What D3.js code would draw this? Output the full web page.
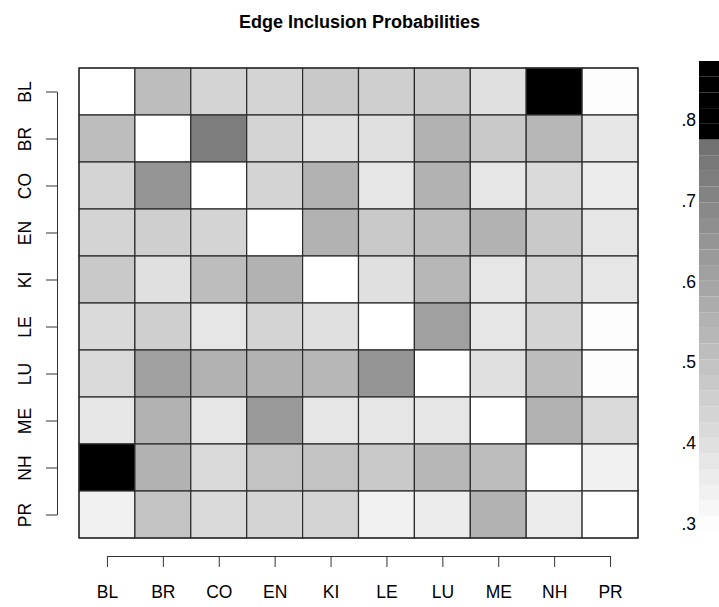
<!DOCTYPE html>
<html>
<head>
<meta charset="utf-8">
<script src="https://cdn.jsdelivr.net/npm/d3@7/dist/d3.min.js"></script>
<style>
  html, body { margin: 0; padding: 0; background: #fff; overflow: hidden; }
  svg { display: block; font-family: "Liberation Sans", Arial, Helvetica, sans-serif; }
</style>
</head>
<body>
<svg id="chart" width="719" height="607"></svg>
<script>
// ---- data ----
const title = "Edge Inclusion Probabilities";
const nodes = ["BL", "BR", "CO", "EN", "KI", "LE", "LU", "ME", "NH", "PR"];
// rows (top to bottom) = nodes, columns (left to right) = nodes; null on diagonal
const rowBL = [null, 0.518, 0.441, 0.441, 0.467, 0.454, 0.477, 0.404, 0.873, 0.303];
const rowBR = [0.504, null, 0.722, 0.430, 0.400, 0.397, 0.551, 0.477, 0.524, 0.387];
const rowCO = [0.434, 0.655, null, 0.427, 0.548, 0.380, 0.548, 0.387, 0.420, 0.354];
const rowEN = [0.444, 0.454, 0.430, null, 0.561, 0.474, 0.514, 0.561, 0.471, 0.387];
const rowKI = [0.474, 0.397, 0.508, 0.551, null, 0.397, 0.541, 0.387, 0.441, 0.387];
const rowLE = [0.424, 0.447, 0.384, 0.427, 0.397, null, 0.618, 0.387, 0.441, 0.290];
const rowLU = [0.424, 0.612, 0.548, 0.551, 0.528, 0.655, null, 0.400, 0.506, 0.305];
const rowME = [0.380, 0.561, 0.372, 0.622, 0.380, 0.370, 0.387, null, 0.548, 0.408];
const rowNH = [0.860, 0.558, 0.424, 0.494, 0.494, 0.474, 0.528, 0.504, null, 0.333];
const rowPR = [0.335, 0.498, 0.424, 0.434, 0.444, 0.330, 0.367, 0.548, 0.357, null];
const matrix = [rowBL, rowBR, rowCO, rowEN, rowKI, rowLE, rowLU, rowME, rowNH, rowPR];
const legendTicks = [0.3, 0.4, 0.5, 0.6, 0.7, 0.8];
const legendTickLabels = [".3", ".4", ".5", ".6", ".7", ".8"];

// ---- layout ----
const svg = d3.select("#chart");
const grid = { left: 79, right: 638, top: 68, bottom: 538 };
const nBands = 30;
const labelSize = "17.5px";

const cells = [];
matrix.forEach((row, i) => row.forEach((v, j) => cells.push({ r: nodes[i], c: nodes[j], v })));
const allVals = cells.filter(d => d.v !== null).map(d => d.v);
const extent = d3.extent(allVals);

// palette: 30 grey levels, top 5 black
const palette = d3.range(nBands).map(k => {
  if (k >= 25) return "#000000";
  const g = Math.round(253 - 5.8 * k);
  return d3.rgb(g, g, g).formatHex();
});
const color = d3.scaleQuantize().domain(extent).range(palette);

const x = d3.scaleBand().domain(nodes).range([grid.left, grid.right]);
const y = d3.scaleBand().domain(nodes).range([grid.top, grid.bottom]);

// title
svg.append("text")
  .attr("x", 359.5).attr("y", 28)
  .attr("text-anchor", "middle")
  .attr("font-weight", "bold")
  .attr("font-size", "18px")
  .attr("fill", "#000")
  .text(title);

// cells
svg.append("g").selectAll("rect").data(cells).join("rect")
  .attr("x", d => x(d.c)).attr("y", d => y(d.r))
  .attr("width", x.bandwidth()).attr("height", y.bandwidth())
  .attr("fill", d => d.v === null ? "#ffffff" : color(d.v))
  .attr("stroke", "#2b2b2b").attr("stroke-width", 1.2);

// outer border
svg.append("rect")
  .attr("x", grid.left).attr("y", grid.top)
  .attr("width", grid.right - grid.left).attr("height", grid.bottom - grid.top)
  .attr("fill", "none").attr("stroke", "#2b2b2b").attr("stroke-width", 1.2);

// axes (R style: line spans first to last tick)
const xp = d3.scalePoint().domain(nodes)
  .range([grid.left + x.bandwidth() / 2, grid.right - x.bandwidth() / 2]);
const yp = d3.scalePoint().domain(nodes)
  .range([grid.top + y.bandwidth() / 2, grid.bottom - y.bandwidth() / 2]);

const xAxis = svg.append("g")
  .attr("transform", "translate(0,556)")
  .call(d3.axisBottom(xp).tickSizeInner(11).tickSizeOuter(0).tickPadding(19));
xAxis.selectAll("text").attr("font-size", labelSize).attr("fill", "#000").attr("font-family", null);
xAxis.selectAll("path,line").attr("stroke", "#333");

const yAxis = svg.append("g")
  .attr("transform", "translate(57,0)")
  .call(d3.axisLeft(yp).tickSizeInner(11).tickSizeOuter(0));
yAxis.selectAll("text")
  .attr("x", null).attr("dy", null)
  .attr("text-anchor", "middle")
  .attr("transform", "translate(-32,0) rotate(-90)")
  .attr("dy", "0.35em")
  .attr("font-size", labelSize).attr("fill", "#000").attr("font-family", null);
yAxis.selectAll("path,line").attr("stroke", "#333");

// color bar
const bar = { x: 699, width: 40, top: 61, bottom: 532 };
const ly = d3.scaleLinear().domain(extent).range([bar.bottom, bar.top]);
const step = (extent[1] - extent[0]) / nBands;
const bands = d3.range(nBands).map(k => ({ lo: extent[0] + k * step, hi: extent[0] + (k + 1) * step, col: palette[k] }));
svg.append("g").selectAll("rect").data(bands).join("rect")
  .attr("x", bar.x).attr("width", bar.width)
  .attr("y", d => ly(d.hi)).attr("height", d => ly(d.lo) - ly(d.hi))
  .attr("fill", d => d.col);

const lAxis = svg.append("g")
  .attr("transform", `translate(${bar.x},0)`)
  .call(d3.axisLeft(ly).tickValues(legendTicks)
    .tickFormat((d, i) => legendTickLabels[i]).tickSize(0).tickPadding(3));
lAxis.select(".domain").remove();
lAxis.selectAll("text").attr("font-size", labelSize).attr("fill", "#000").attr("font-family", null);
</script>
</body>
</html>
